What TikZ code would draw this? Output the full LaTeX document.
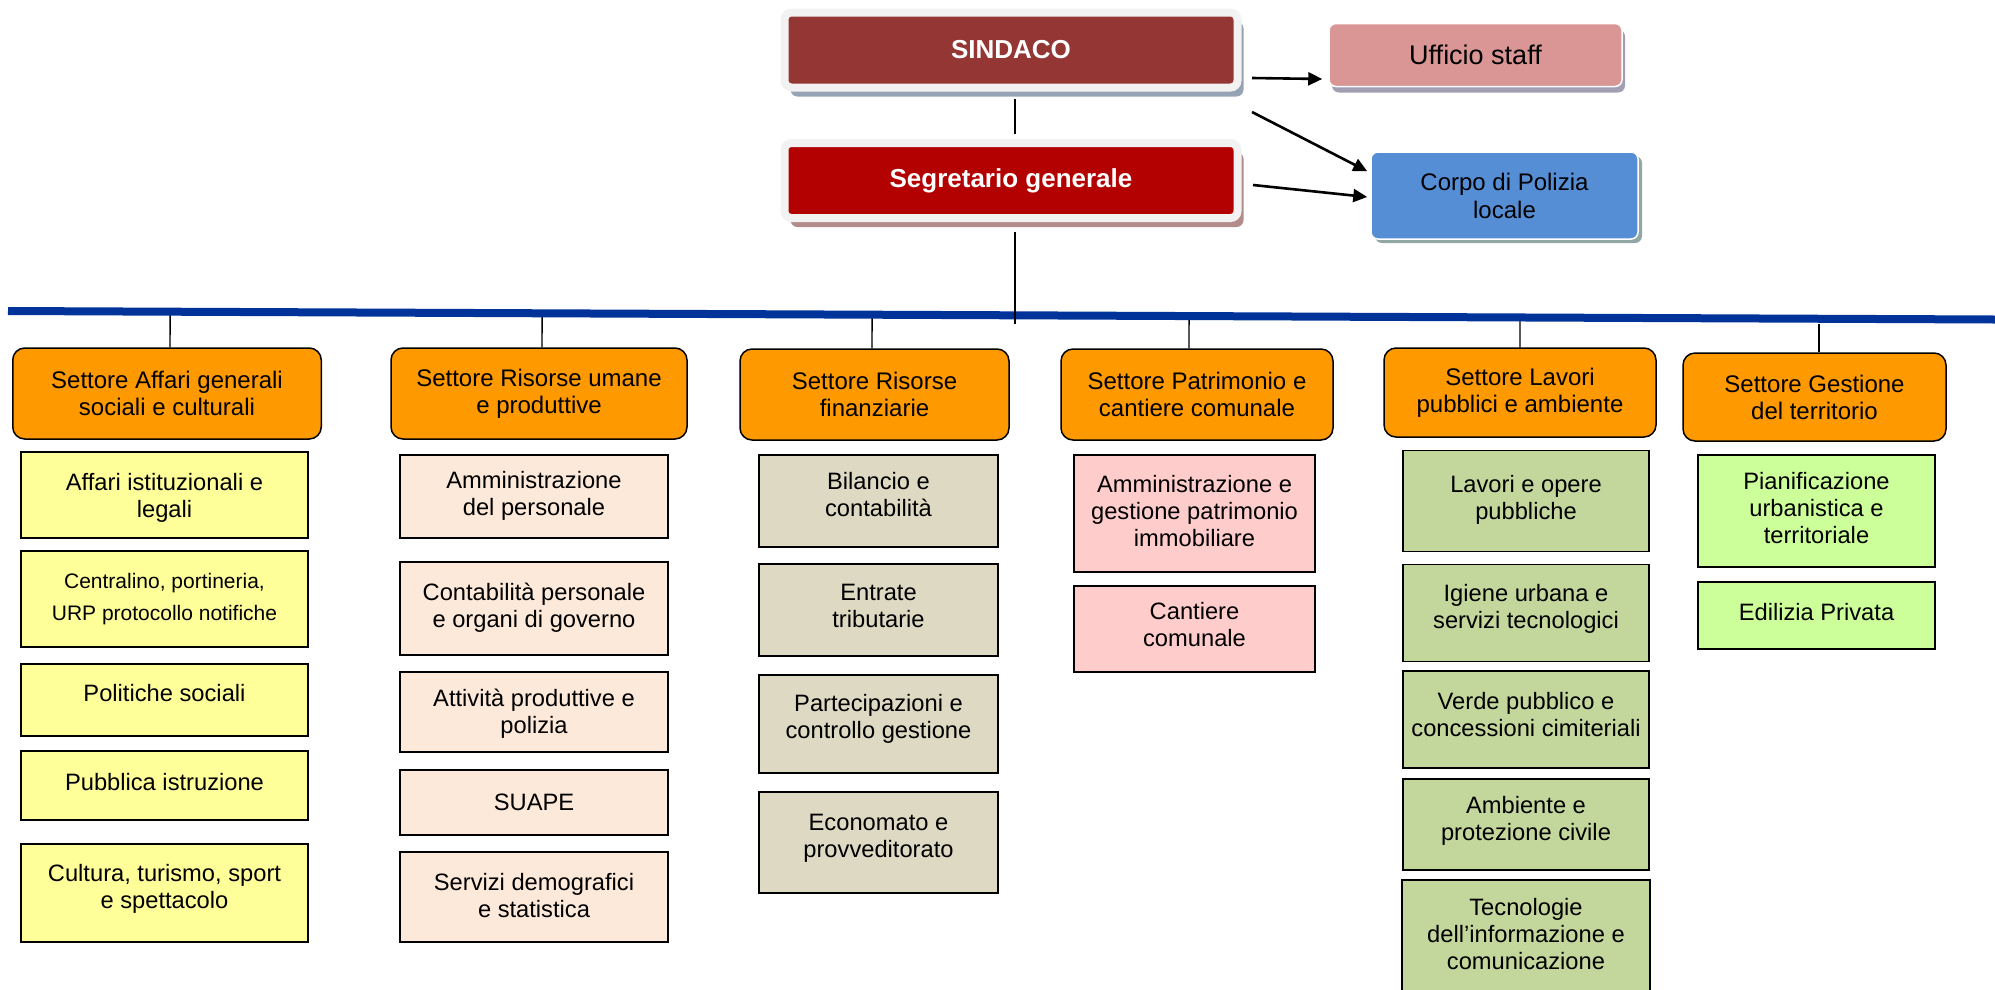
\documentclass[tikz,border=0pt]{standalone}
\usepackage{fontspec}
\setmainfont{Liberation Sans}
\usetikzlibrary{arrows.meta,calc,shadows}

\definecolor{sindcol}{HTML}{943634}
\definecolor{segcol}{HTML}{B30000}
\definecolor{framecol}{HTML}{F2F2F2}
\definecolor{sindshadow}{HTML}{95A3B5}
\definecolor{segshadow}{HTML}{B38B8B}
\definecolor{uffcol}{HTML}{D99694}
\definecolor{uffshadow}{HTML}{A39FB3}
\definecolor{polcol}{HTML}{558ED5}
\definecolor{polshadow}{HTML}{93A6A6}
\definecolor{linecol}{HTML}{003399}
\definecolor{orangecol}{HTML}{FF9900}
\definecolor{colA}{HTML}{FFFF99}
\definecolor{colB}{HTML}{FDE9D9}
\definecolor{colC}{HTML}{DDD9C3}
\definecolor{colD}{HTML}{FFCCCC}
\definecolor{colE}{HTML}{C3D69B}
\definecolor{colF}{HTML}{CCFF99}

\begin{document}
\begin{tikzpicture}[x=1pt,y=-1pt,
  topbox/.style={rectangle, rounded corners=7pt, draw=framecol, line width=8pt, text=white,
    font=\fontsize{26}{30}\selectfont\bfseries, minimum width=453pt, minimum height=75pt, inner sep=0pt},
  sidebox/.style={rectangle, rounded corners=7pt, draw=white, line width=1.5pt, text=black,
    align=center, inner sep=0pt},
  settore/.style={rectangle, rounded corners=12pt, draw=black, line width=1.5pt, fill=orangecol,
    align=center, inner sep=0pt, font=\fontsize{24}{27}\selectfont},
  unit/.style={rectangle, draw=black, line width=1.6pt, align=center, inner sep=0pt,
    font=\fontsize{23.7}{27}\selectfont},
  tup/.style={text depth=#1pt},
  unitline/.style={draw=black, line width=1.6pt},
  conn/.style={draw=black, line width=1.4pt},
  arr/.style={draw=black, line width=2.6pt, -{Triangle[length=14pt,width=13pt]}},
  mainline/.style={draw=linecol, line width=8pt},
]
\useasboundingbox (0,0) rectangle (1995,989);

% ---------- top level ----------
\node[topbox, fill=sindcol, drop shadow={shadow xshift=6pt, shadow yshift=-9pt, fill=sindshadow, opacity=1}]
  (sind) at (1011,50) {SINDACO};
\node[topbox, fill=segcol, drop shadow={shadow xshift=6pt, shadow yshift=-9pt, fill=segshadow, opacity=1}]
  (seg) at (1011,180.5) {Segretario generale};
\node[sidebox, fill=uffcol, minimum width=293pt, minimum height=63pt, font=\fontsize{27}{31}\selectfont,
  drop shadow={shadow xshift=3pt, shadow yshift=-6pt, fill=uffshadow, opacity=1}]
  (uff) at (1475.5,55) {Ufficio staff};
\node[sidebox, fill=polcol, minimum width=267pt, minimum height=87pt, font=\fontsize{24}{28}\selectfont,
  drop shadow={shadow xshift=4pt, shadow yshift=-4pt, fill=polshadow, opacity=1}]
  (pol) at (1504.5,195.5) {Corpo di Polizia\\locale};

% arrows
\draw[arr] ([shift={(10.5,28)}]sind.east) -- ([shift={(-6,24)}]uff.west);
\draw[arr] ([shift={(10.5,20.5)}]sind.south east) -- ([shift={(-3,20)}]pol.north west);
\draw[arr] ([shift={(11.5,4.5)}]seg.east) -- ([shift={(-3,1.5)}]pol.west);

% ---------- settori ----------
\node[settore, minimum width=308.5pt, minimum height=91pt] (s1) at (167,393.5) {Settore Affari generali\\sociali e culturali};
\node[settore, minimum width=296pt, minimum height=91pt] (s2) at (539,393.5) {Settore Risorse umane\\e produttive};
\node[settore, minimum width=269pt, minimum height=91pt] (s3) at (874.5,394.5) {Settore Risorse\\finanziarie};
\node[settore, minimum width=272pt, minimum height=91pt] (s4) at (1197,394.5) {Settore Patrimonio e\\cantiere comunale};
\node[settore, minimum width=272pt, minimum height=89pt] (s5) at (1520,392.5) {Settore Lavori\\pubblici e ambiente};
\node[settore, minimum width=263pt, minimum height=88pt] (s6) at (1814.5,397) {Settore Gestione\\del territorio};

% main horizontal line and drops
\coordinate (bl) at (8,311);
\coordinate (br) at (1995,319.5);
\draw[conn] ([xshift=3pt]s1.north) -- ($(bl)!([xshift=3pt]s1.north)!(br)$);
\draw[conn] ([xshift=3pt]s2.north) -- ($(bl)!([xshift=3pt]s2.north)!(br)$);
\draw[conn] ([xshift=-2.5pt]s3.north) -- ($(bl)!([xshift=-2.5pt]s3.north)!(br)$);
\draw[conn] ([xshift=-8pt]s4.north) -- ($(bl)!([xshift=-8pt]s4.north)!(br)$);
\draw[conn] (s5.north) -- ($(bl)!(s5.north)!(br)$);
\draw[conn] ([xshift=4.5pt]s6.north) -- ++(0,-28);
\draw[mainline] (bl) -- (br);

% vertical spine
\coordinate (spineend) at (1015,324);
\draw[conn] ([xshift=4pt,yshift=-7pt]sind.south) -- ([xshift=4pt,yshift=5pt]seg.north);
\draw[conn] ([xshift=4pt,yshift=-10pt]seg.south) -- (spineend);

% ---------- column 1 ----------
\node[unit, fill=colA, tup=0, minimum width=287pt, minimum height=86pt] (a1) at (164.5,495) {Affari istituzionali e\\legali};
\node[unit, fill=colA, tup=3.4, minimum width=287pt, minimum height=96pt, font=\fontsize{21}{32}\selectfont] (a2) at (164.5,599) {Centralino, portineria,\\URP protocollo notifiche};
\node[unit, fill=colA, tup=14.4, minimum width=287pt, minimum height=72pt] (a3) at (164.5,700) {Politiche sociali};
\node[unit, fill=colA, tup=7.4, minimum width=287pt, minimum height=69pt] (a4) at (164.5,785.5) {Pubblica istruzione};
\node[unit, fill=colA, tup=12.4, minimum width=287pt, minimum height=98pt] (a5) at (164.5,893) {Cultura, turismo, sport\\e spettacolo};

% ---------- column 2 ----------
\node[unit, fill=colB, tup=5.4, minimum width=268pt, minimum height=83pt] (b1) at (534,496.5) {Amministrazione\\del personale};
\node[unit, fill=colB, tup=7.4, minimum width=268pt, minimum height=93pt] (b2) at (534,608.5) {Contabilità personale\\e organi di governo};
\node[unit, fill=colB, tup=2.4, minimum width=268pt, minimum height=80pt] (b3) at (534,712) {Attività produttive e\\polizia};
\node[unit, fill=colB, tup=0.4, minimum width=268pt, minimum height=65pt] (b4) at (534,802.5) {SUAPE};
\node[unit, fill=colB, tup=3.4, minimum width=268pt, minimum height=90pt] (b5) at (534,897) {Servizi demografici\\e statistica};

% ---------- column 3 ----------
\node[unit, fill=colC, tup=12.4, minimum width=239pt, minimum height=92pt] (c1) at (878.5,501) {Bilancio e\\contabilità};
\node[unit, fill=colC, tup=8.4, minimum width=239pt, minimum height=92pt] (c2) at (878.5,610) {Entrate\\tributarie};
\node[unit, fill=colC, tup=15, minimum width=239pt, minimum height=98pt] (c3) at (878.5,724) {Partecipazioni e\\controllo gestione};
\node[unit, fill=colC, tup=12.4, minimum width=239pt, minimum height=101pt] (c4) at (878.5,842.5) {Economato e\\provveditorato};

% ---------- column 4 ----------
\node[unit, fill=colD, tup=4.4, minimum width=241pt, minimum height=117pt] (d1) at (1194.5,513.5) {Amministrazione e\\gestione patrimonio\\immobiliare};
\node[unit, fill=colD, tup=9.4, minimum width=241pt, minimum height=86pt] (d2) at (1194.5,629) {Cantiere\\comunale};

% ---------- column 5 ----------
\node[unit, fill=colE, tup=6.4, minimum width=246pt, minimum height=101pt] (e1) at (1526,501) {Lavori e opere\\pubbliche};
\node[unit, fill=colE, tup=12.4, minimum width=246pt, minimum height=97pt] (e2) at (1526,612.8) {Igiene urbana e\\servizi tecnologici};
\node[unit, fill=colE, tup=9.8, minimum width=246pt, minimum height=97pt] (e3) at (1526,719.6) {Verde pubblico e\\concessioni cimiteriali};
\node[unit, fill=colE, tup=11.6, minimum width=246pt, minimum height=91pt] (e4) at (1526,824.3) {Ambiente e\\protezione civile};
\node[unit, fill=colE, draw=none, tup=0.4, minimum width=246pt, minimum height=107pt] (e5) at (1526,934) {Tecnologie\\dell’informazione e\\comunicazione};
\fill[colE] ([yshift=1pt]e5.south west) rectangle ([yshift=-30pt]e5.south east);
\draw[unitline] ([yshift=-30pt]e5.south west) -- (e5.north west) -- (e5.north east) -- ([yshift=-30pt]e5.south east);

% ---------- column 6 ----------
\node[unit, fill=colF, tup=6.4, minimum width=237pt, minimum height=112pt] (f1) at (1816.5,510.9) {Pianificazione\\urbanistica e\\territoriale};
\node[unit, fill=colF, tup=6.4, minimum width=237pt, minimum height=67pt] (f2) at (1816.5,615.4) {Edilizia Privata};

\end{tikzpicture}
\end{document}
